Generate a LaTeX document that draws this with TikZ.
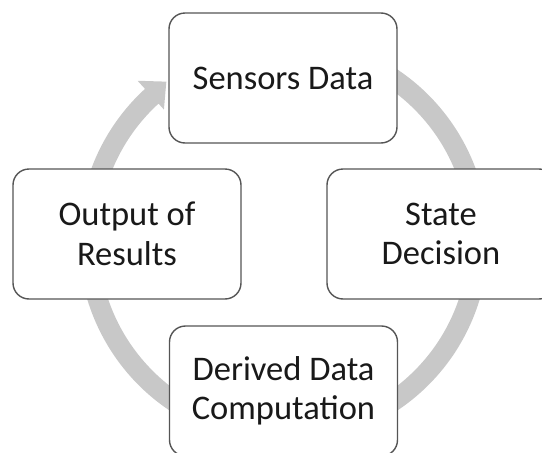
\documentclass[tikz,border=0pt]{standalone}
\usepackage{fontspec}
\setmainfont{Carlito}
\definecolor{ringgray}{RGB}{200,200,200}
\definecolor{boxline}{RGB}{85,85,85}
\definecolor{txt}{RGB}{25,25,25}
\tikzset{
  stagebox/.style={draw=boxline, line width=1.4pt, fill=white, rounded corners=16pt,
    minimum width=228pt, minimum height=130pt, inner sep=0pt, align=center,
    text=txt, font=\fontsize{34.5}{39.5}\selectfont},
}
\begin{document}
\begin{tikzpicture}[x=1pt, y=1pt]
  \useasboundingbox (0,0) rectangle (542,-453);
  \coordinate (C) at (283.5,-240);
  % circular arrow running clockwise behind the stages
  \fill[ringgray]
    ([shift={(C)}]70:205) arc[start angle=70, end angle=-227.5, radius=205]
    -- ([shift={(C)}]132.5:216)
    -- ([shift={(C)}]126.5:197)
    -- ([shift={(C)}]132.5:177)
    -- ([shift={(C)}]132.5:185)
    arc[start angle=-227.5, end angle=70, radius=185]
    -- cycle;
  % stages of the cycle
  \node[stagebox] (sensors) at (283,-78) {Sensors Data};
  \node[stagebox] (state) at (441,-234) {State\\Decision};
  \node[stagebox] (derived) at (283.5,-391) {Derived Data\\Computation};
  \node[stagebox] (output) at (127,-234) {Output of\\Results};
\end{tikzpicture}
\end{document}
